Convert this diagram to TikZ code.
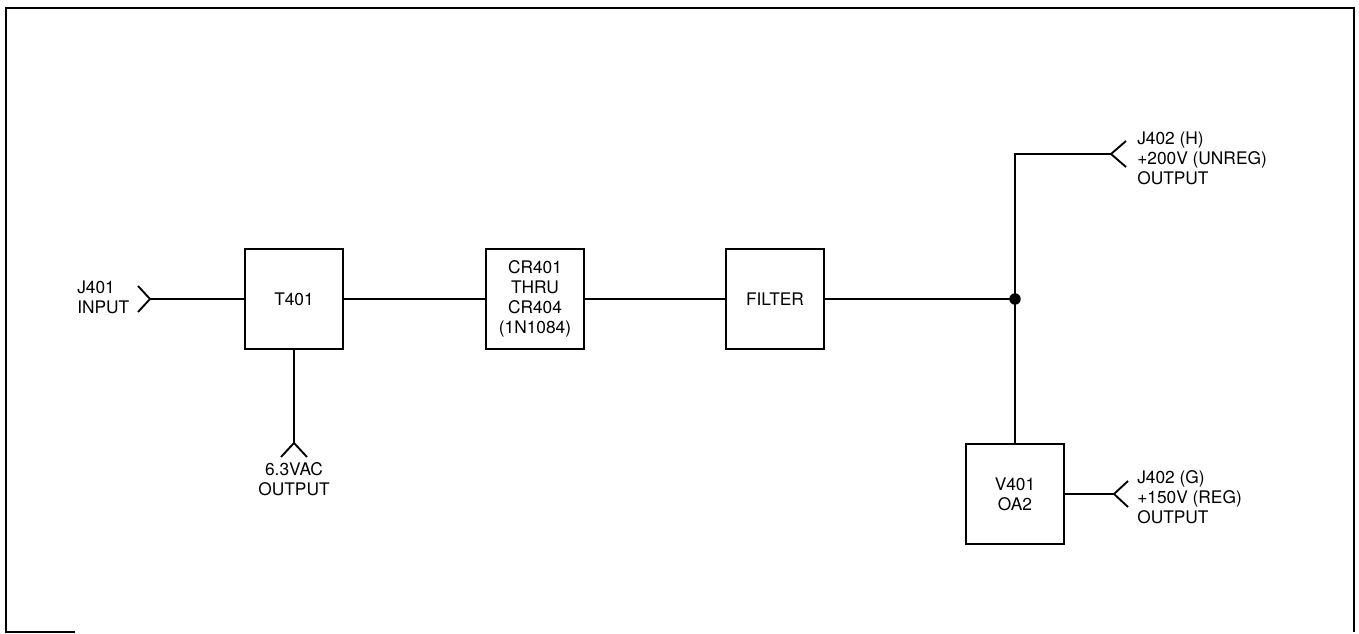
\documentclass[tikz,border=0pt]{standalone}
\usepackage{fontspec}
\setmainfont{TeX Gyre Heros}
\usetikzlibrary{calc}
\tikzset{
  block/.style={draw,line width=1.4pt,minimum width=73.5pt,minimum height=75pt,
    align=center,font=\fontsize{13}{15}\selectfont},
  wire/.style={line width=1.4pt},
  lbl/.style={align=left,font=\fontsize{13}{15}\selectfont,inner sep=0pt},
}

\begin{document}
\begin{tikzpicture}[x=.75pt,y=-.75pt]
  \useasboundingbox (0,0) rectangle (1359,634);
  % frame
  \draw[line width=1.6pt] (75,632) -- (6,632) -- (6,8) -- (1354,8) -- (1354,632);
  % blocks
  \node[block] (t401) at (294,299) {T401};
  \node[block] (cr) at (535,299) {CR401\\THRU\\CR404\\(1N1084)};
  \node[block] (filter) at (775,299) {FILTER};
  \node[block] (v401) at (1015,494) {V401\\OA2};
  % jacks and junction
  \coordinate (jin) at (150,299);
  \coordinate (jac) at (294,443);
  \coordinate (dot) at (1015,299);
  \coordinate (jh) at (1111,154);
  \coordinate (jg) at (1114,494);
  % wiring
  \draw[wire] (jin) -- (t401) -- (cr) -- (filter) -- (dot);
  \draw[wire] (t401) -- (jac);
  \draw[wire] (v401) -- (dot) |- (jh);
  \draw[wire] (v401) -- (jg);
  \fill (dot) circle (4.3pt);
  \draw[wire] (jin) ++(-12,-13) -- (jin) -- ++(-12,13);
  \draw[wire] (jac) ++(-13,14) -- (jac) -- ++(13,14);
  \draw[wire] (jh) ++(15,-13) -- (jh) -- ++(15,13);
  \draw[wire] (jg) ++(14,-13) -- (jg) -- ++(14,13);
  % labels
  \node[lbl,anchor=west] (lin) at (77,297) {J401\\INPUT};
  \node[lbl,anchor=north,align=center] (lac) at (294,462) {6.3VAC\\OUTPUT};
  \node[lbl,anchor=west] (lh) at (1137,158) {J402 (H)\\+200V (UNREG)\\OUTPUT};
  \node[lbl,anchor=west] (lg) at (1137,497) {J402 (G)\\+150V (REG)\\OUTPUT};
\end{tikzpicture}
\end{document}
